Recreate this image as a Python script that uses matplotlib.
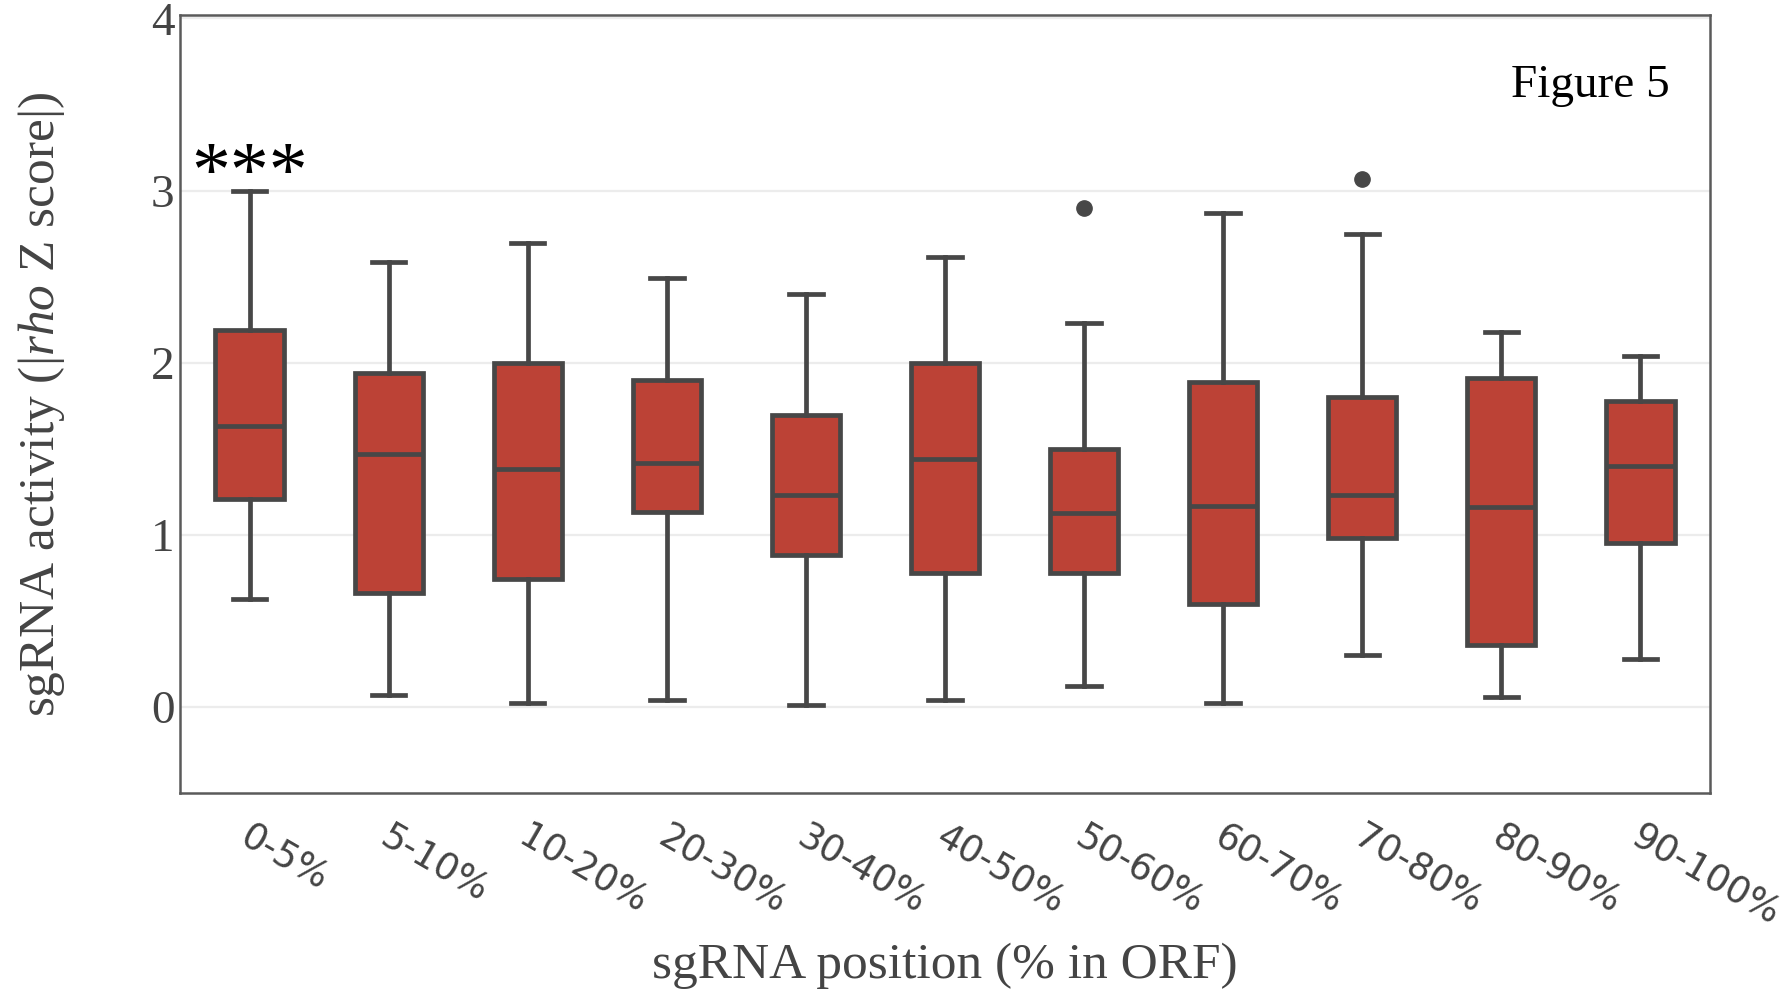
import matplotlib
matplotlib.use("Agg")
import matplotlib.pyplot as plt
from matplotlib.transforms import ScaledTranslation

# ---- data ----
categories = ["0-5%", "5-10%", "10-20%", "20-30%", "30-40%", "40-50%",
              "50-60%", "60-70%", "70-80%", "80-90%", "90-100%"]
whisker_low = [0.63, 0.07, 0.02, 0.04, 0.01, 0.04, 0.12, 0.02, 0.30, 0.06, 0.28]
q1          = [1.21, 0.66, 0.745, 1.13, 0.88, 0.78, 0.78, 0.60, 0.98, 0.36, 0.95]
median      = [1.63, 1.47, 1.38, 1.415, 1.23, 1.44, 1.125, 1.17, 1.23, 1.16, 1.40]
q3          = [2.19, 1.94, 2.00, 1.90, 1.695, 2.00, 1.50, 1.885, 1.80, 1.91, 1.78]
whisker_high = [3.00, 2.585, 2.695, 2.49, 2.40, 2.615, 2.23, 2.87, 2.75, 2.18, 2.04]
outliers    = [[], [], [], [], [], [], [2.90], [], [3.07], [], []]
yticks = [0, 1, 2, 3, 4]
annotation = "***"

FILL = "#BC4236"
EDGE = "#474747"
TXT = "#444444"

plt.rcParams["mathtext.fontset"] = "custom"
plt.rcParams["mathtext.rm"] = "Liberation Serif"
plt.rcParams["mathtext.it"] = "Liberation Serif:italic"

fig = plt.figure(figsize=(17.84, 9.91), dpi=100)
ax = fig.add_axes([180 / 1784, 1 - 793 / 991, (1710 - 180) / 1784, (793 - 15) / 991])

stats = []
for i, c in enumerate(categories):
    stats.append(dict(label=c, whislo=whisker_low[i], q1=q1[i], med=median[i],
                      q3=q3[i], whishi=whisker_high[i], fliers=outliers[i]))

lw = 3.4
ax.bxp(stats, positions=range(len(categories)), widths=0.49, patch_artist=True,
       showfliers=True, capwidths=0.24,
       boxprops=dict(facecolor=FILL, edgecolor=EDGE, linewidth=lw),
       medianprops=dict(color=EDGE, linewidth=lw),
       whiskerprops=dict(color=EDGE, linewidth=lw),
       capprops=dict(color=EDGE, linewidth=lw),
       flierprops=dict(marker="o", markersize=11, markerfacecolor=EDGE,
                       markeredgecolor=EDGE))

ax.set_xlim(-0.5, len(categories) - 0.5)
ax.set_ylim(-0.5, 4.02)
ax.set_yticks(yticks)
ax.set_yticklabels([str(t) for t in yticks], family="Liberation Serif",
                   fontsize=34, color=TXT)
ax.yaxis.grid(True, color="#ECECEC", linewidth=1.6)
ax.set_axisbelow(True)
ax.tick_params(axis="both", length=0)
ax.tick_params(axis="y", pad=4)
ax.tick_params(axis="x", pad=18)

ax.set_xticks(range(len(categories)))
ax.set_xticklabels(categories, rotation=-30, ha="left", va="top",
                   rotation_mode="anchor", color=TXT, fontsize=26.5,
                   family=["Liberation Sans Narrow", "DejaVu Sans"])
for lbl in ax.get_xticklabels():
    lbl.set_transform(lbl.get_transform() + ScaledTranslation(0.03, 0, fig.dpi_scale_trans))

for s in ax.spines.values():
    s.set_color("#5A5A5A")
    s.set_linewidth(1.8)

fig.text(42 / 1784, 1 - 404 / 991, r"sgRNA activity (|$\mathit{rho}$ Z score|)",
         rotation=90, ha="center", va="center", family="Liberation Serif",
         fontsize=37, color=TXT)
fig.text(945 / 1784, 1 - 978 / 991, "sgRNA position (% in ORF)", ha="center",
         va="baseline", family="Liberation Serif", fontsize=37, color=TXT)

fig.text(1670 / 1784, 1 - 97 / 991, "Figure 5", ha="right", va="baseline",
         family="Liberation Serif", fontsize=34, color="black")

ax.text(0, 2.975, annotation, ha="center", va="baseline", family="Liberation Serif",
        fontsize=56, color="black")

fig.savefig("out.png", dpi=100)
